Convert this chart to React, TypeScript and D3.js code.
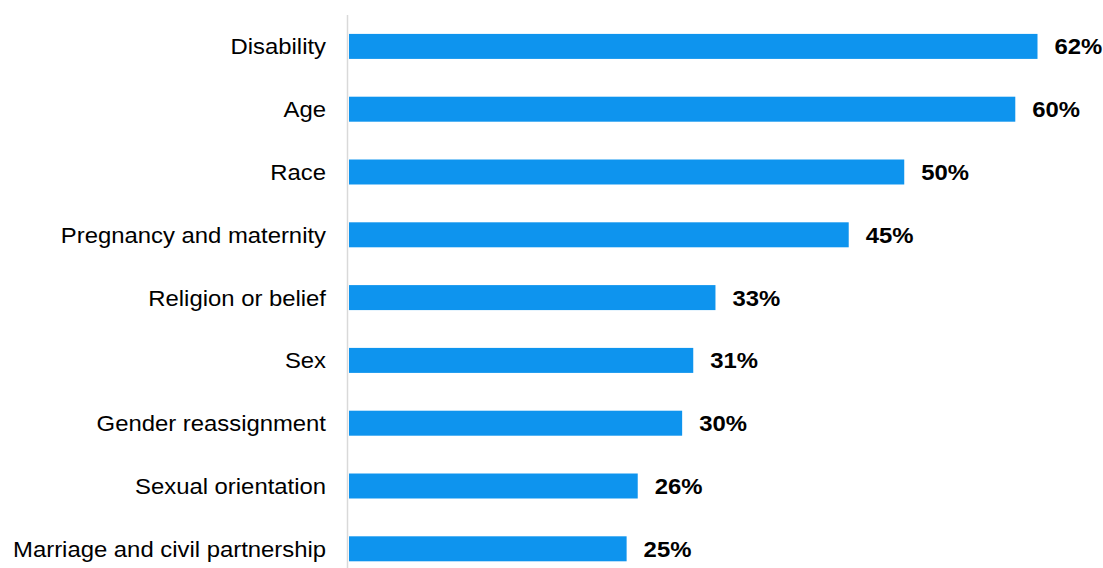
import React from "react";
import * as d3 from "d3";

const categories = [
  "Disability",
  "Age",
  "Race",
  "Pregnancy and maternity",
  "Religion or belief",
  "Sex",
  "Gender reassignment",
  "Sexual orientation",
  "Marriage and civil partnership",
];
const values = [62, 60, 50, 45, 33, 31, 30, 26, 25];

const W = 1103;
const H = 568;
const SX = 1.085;

export default function App() {
  const y = d3
    .scaleBand<string>()
    .domain(categories)
    .range([15, 580.2])
    .paddingInner(0.602)
    .paddingOuter(0.301);
  const x = d3.scaleLinear().domain([0, 62]).range([349, 1037.5]);
  const font = "'Liberation Sans', Arial, sans-serif";
  return (
    <svg
      width={W}
      height={H}
      style={{ position: "absolute", left: 0, top: 0, background: "#fff" }}
    >
      {categories.map((c, i) => {
        const y0 = y(c)!;
        const bw = y.bandwidth();
        const cy = y0 + bw / 2;
        return (
          <g key={c}>
            <rect x={x(0)} y={y0} width={x(values[i]) - x(0)} height={bw} fill="#0e94ee" />
            <g transform={`translate(326,${cy}) scale(${SX},1)`}>
              <text
                dy="0.36em"
                textAnchor="end"
                fontFamily={font}
                fontSize={22}
                fill="#000"
              >
                {c}
              </text>
            </g>
            <g transform={`translate(${x(values[i]) + 17},${cy}) scale(${SX},1)`}>
              <text
                dy="0.36em"
                textAnchor="start"
                fontFamily={font}
                fontSize={22}
                fontWeight="bold"
                fill="#000"
              >
                {values[i]}%
              </text>
            </g>
          </g>
        );
      })}
      <line x1={347.5} x2={347.5} y1={15} y2={H} stroke="#d9d9d9" strokeWidth={1.5} />
    </svg>
  );
}
